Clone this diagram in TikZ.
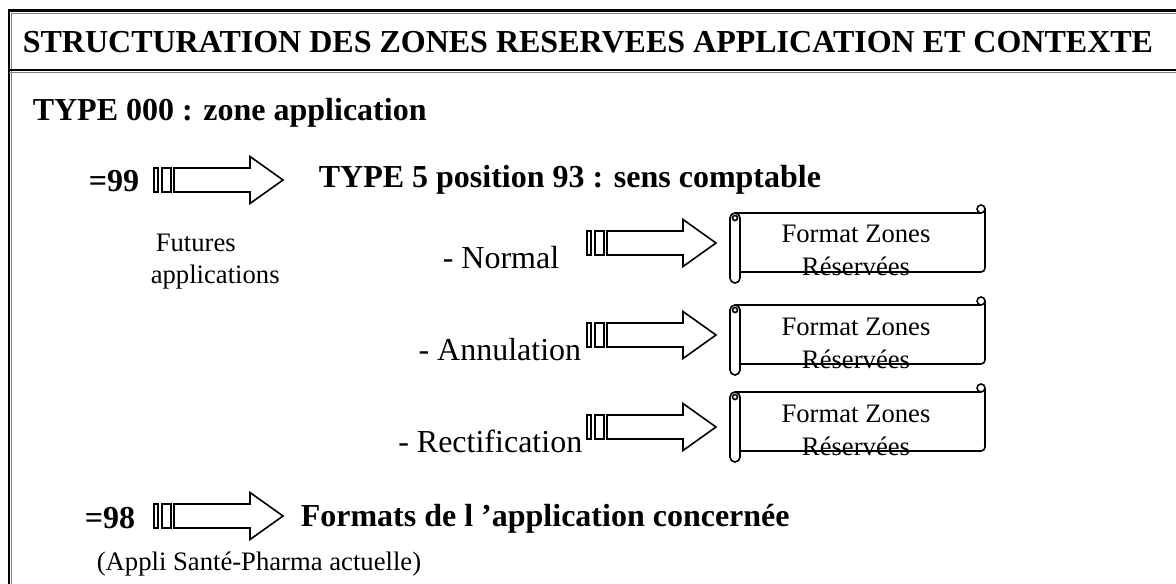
\documentclass[tikz,border=0pt]{standalone}
\usepackage{fontspec}
\setmainfont{Liberation Serif}
\begin{document}
\begin{tikzpicture}[
  x=0.75pt, y=-0.75pt, line width=1.2pt,
  lbl/.style  ={inner sep=0pt, anchor=base west},
  head/.style ={lbl, font=\fontsize{24}{28}\selectfont\bfseries},
  note/.style ={lbl, font=\fontsize{20}{24}\selectfont},
  item/.style ={inner sep=0pt, anchor=base east, font=\fontsize{24}{28}\selectfont},
  code/.style ={item, font=\fontsize{24}{28}\selectfont\bfseries},
  zone/.style ={inner sep=0pt, anchor=base, font=\fontsize{20}{24}\selectfont},
  striparrow/.pic={
    \draw (0,-12) rectangle (4,12);
    \draw (8,-12) rectangle (17,12);
    \draw (20,-12) -- (96,-12) -- (96,-23.5) -- (129,0) -- (96,23.5) -- (96,12) -- (20,12) -- cycle;
  },
  scroll/.pic={
    \fill[white] (5,0) rectangle (255,59);
    \draw (5,0) -- (251,0);
    \draw[rounded corners=3pt] (255,-4) -- (255,59) -- (10,59);
    \draw (251,-4) circle[radius=4];
    \draw[fill=white, rounded corners=3.7pt] (0,0) rectangle (10,70);
    \draw (5,5) circle[radius=2.5];
  }]
  \useasboundingbox (0,0) rectangle (1176,584);

  \draw[line width=2.2pt] (9,584) -- (9,10.5) -- (1176,10.5);
  \draw[gray, line width=0.6pt] (11.5,584) -- (11.5,13) -- (1176,13);
  \draw[line width=1.2pt] (9,70) -- (1176,70);
  \draw[gray, line width=0.6pt] (9,72) -- (1176,72);

  \node[head, anchor=base] (title) at (588,53) {STRUCTURATION DES ZONES RESERVEES APPLICATION ET CONTEXTE};
  \node[head] (type0) at (32,121) {TYPE 000 : zone application};

  \node[code] (eq99) at (140,192) {=99};
  \pic at (154,180) {striparrow};
  \node[head] (type5) at (318,188) {TYPE 5 position 93 : sens comptable};
  \node[note] (fut1) at (155,252) {Futures};
  \node[note] (fut2) at (150,283) {applications};

  \node[item] (normal) at (560,268) {- Normal};
  \pic at (587,243) {striparrow};
  \pic at (730,213) {scroll};
  \node[zone] (zn1) at (856,243) {Format Zones};
  \node[zone] (zr1) at (856,276) {Réservées};

  \node[item] (annul) at (582,360) {- Annulation};
  \pic at (587,335) {striparrow};
  \pic at (730,305) {scroll};
  \node[zone] (zn2) at (856,335) {Format Zones};
  \node[zone] (zr2) at (856,368) {Réservées};

  \node[item] (rectif) at (583,452) {- Rectification};
  \pic at (587,427) {striparrow};
  \pic at (730,392) {scroll};
  \node[zone] (zn3) at (856,422) {Format Zones};
  \node[zone] (zr3) at (856,455) {Réservées};

  \node[code] (eq98) at (136,528) {=98};
  \pic at (154,516) {striparrow};
  \node[head] (fmt) at (300,526) {Formats de l ’application concernée};
  \node[note] (appli) at (96,570) {(Appli Santé-Pharma actuelle)};
\end{tikzpicture}
\end{document}
